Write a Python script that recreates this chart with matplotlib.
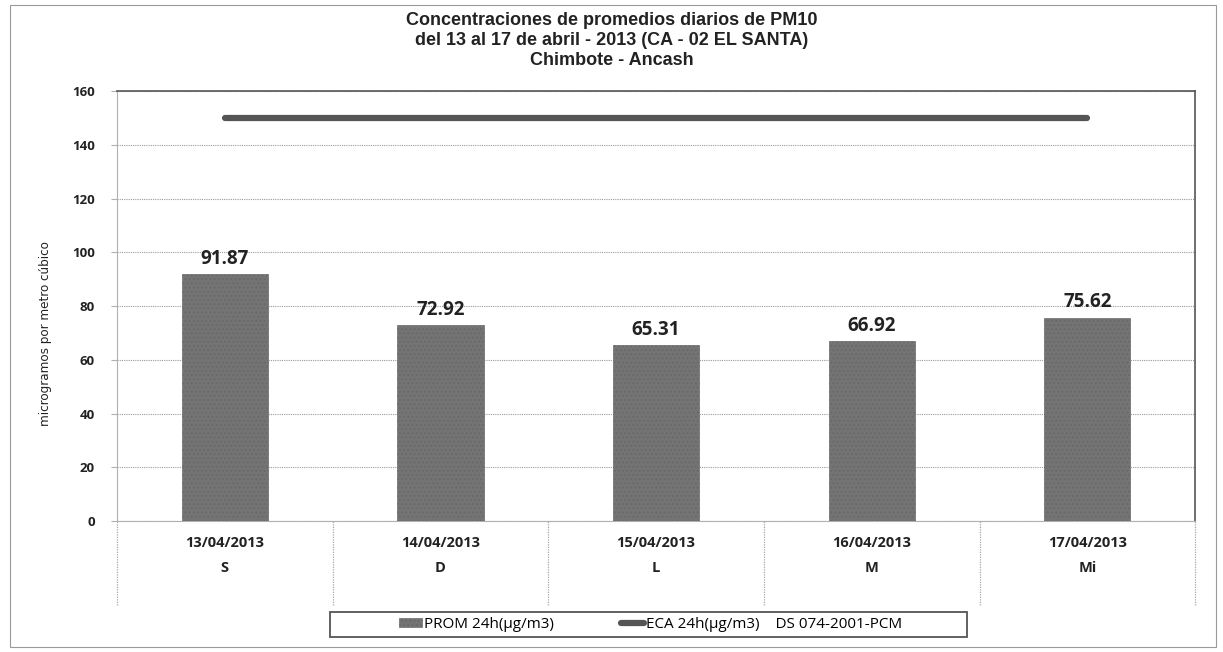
# Concentraciones de PM10 - CA-02 El Santa
import matplotlib.pyplot as plt
from matplotlib.patches import Rectangle

fechas = ["13/04/2013", "14/04/2013", "15/04/2013", "16/04/2013", "17/04/2013"]
dias = ["S", "D", "L", "M", "Mi"]
prom_24h = [91.87, 72.92, 65.31, 66.92, 75.62]
eca_24h = [150, 150, 150, 150, 150]

plt.rcParams["hatch.color"] = "#888888"
fig = plt.figure(figsize=(12.23, 6.52), dpi=100)
ax = fig.add_axes([0.0957, 0.2009, 0.8815, 0.6595])

# marco exterior
fig.patches.append(Rectangle((0.008, 0.008), 0.986, 0.984, transform=fig.transFigure,
                             fill=False, edgecolor="#9a9a9a", linewidth=0.8))

x = list(range(len(fechas)))
barras = ax.bar(x, prom_24h, width=0.4, color="#747474", edgecolor="#6a6a6a",
                hatch="....", linewidth=0.5, zorder=3)
linea, = ax.plot(x, eca_24h, color="#555555", linewidth=4.5, solid_capstyle="round", zorder=3)

for xi, v in zip(x, prom_24h):
    ax.text(xi, v + 2, f"{v:.2f}", ha="center", va="bottom", fontsize=13.5,
            fontweight="bold", family="Open Sans", color="#222222")

ax.set_xlim(-0.5, len(fechas) - 0.5)
ax.set_ylim(0, 160)
ax.set_yticks(range(0, 161, 20))
ax.yaxis.grid(True, linestyle=(0, (1, 1)), color="#9a9a9a", linewidth=0.8)
ax.set_axisbelow(True)

ax.set_xticks(x)
ax.set_xticklabels([f"{f}\n{d}" for f, d in zip(fechas, dias)], linespacing=1.95,
                   fontsize=10.5, fontweight="bold", family="Open Sans", color="#222222")
ax.tick_params(axis="x", which="major", length=0, pad=11)
# separadores de categorias
ax.vlines([i - 0.5 for i in range(len(fechas) + 1)], -0.195, 0,
          transform=ax.get_xaxis_transform(), clip_on=False,
          color="#a8a8a8", linewidth=0.9, linestyles=(0, (1, 1)))

ax.tick_params(axis="y", length=4, color="#b0b0b0", pad=12)
for lbl in ax.get_yticklabels():
    lbl.set_fontsize(9.5)
    lbl.set_fontweight("bold")
    lbl.set_family("Open Sans")
    lbl.set_color("#222222")

for s in ["left", "bottom"]:
    ax.spines[s].set_color("#b0b0b0")
    ax.spines[s].set_linestyle((0, (1, 1)))
for s in ["top", "right"]:
    ax.spines[s].set_color("#555555")
    ax.spines[s].set_linewidth(1.2)

ax.set_ylabel("microgramos por metro cúbico", fontsize=9.5, family="DejaVu Sans",
              fontstretch="condensed", color="#222222")
ax.yaxis.set_label_coords(-0.06, 0.437)

fig.text(0.5, 0.938, "Concentraciones de promedios diarios de PM10\n"
         "del 13 al 17 de abril - 2013 (CA - 02 EL SANTA)\nChimbote - Ancash",
         ha="center", va="center", fontsize=13, fontweight="bold",
         family="Liberation Sans", linespacing=1.2, color="#222222")

# leyenda
fig.patches.append(Rectangle((330 / 1223, 15 / 652), 637 / 1223, 25 / 652,
                             transform=fig.transFigure, fill=False,
                             edgecolor="#555555", linewidth=1.3))
leg = fig.legend([barras, linea], ["PROM 24h(µg/m3)", "ECA 24h(µg/m3)    DS 074-2001-PCM"],
                 loc="center", bbox_to_anchor=(0.532, 0.0425), ncol=2, frameon=False,
                 prop={"family": "Open Sans", "size": 11},
                 handlelength=1.5, handleheight=0.6, handletextpad=0.15,
                 columnspacing=4.4, borderpad=0, borderaxespad=0)

plt.savefig("out.png", dpi=100)
